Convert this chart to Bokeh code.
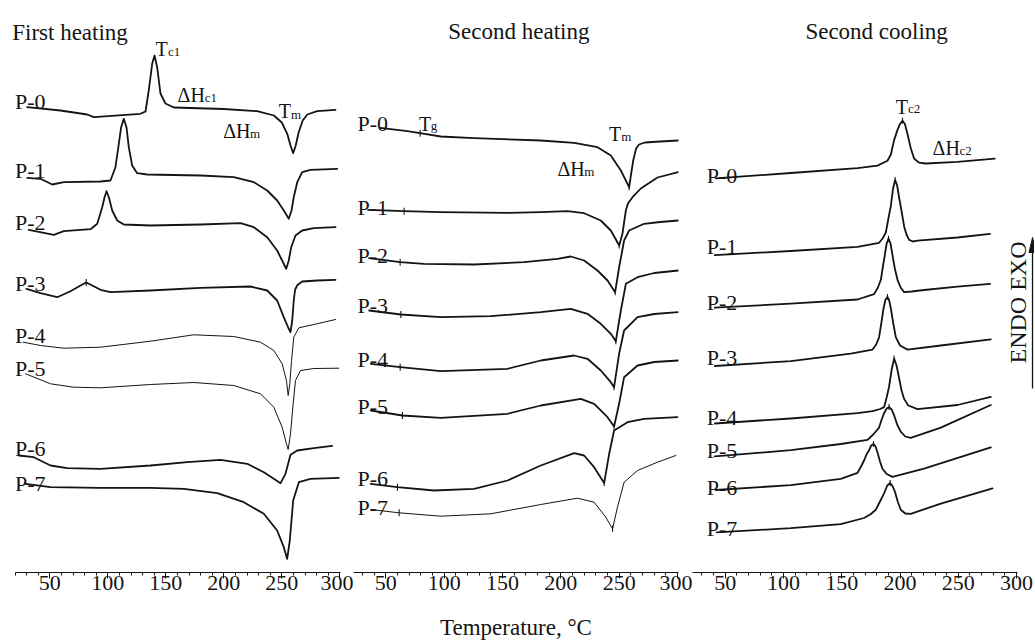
import numpy as np
from bokeh.plotting import figure
from bokeh.layouts import row
from bokeh.models import Range1d, Label, FixedTicker
from bokeh.embed import file_html
from bokeh.resources import INLINE

# ---------------------------------------------------------------- data
samples = ["P-0", "P-1", "P-2", "P-3", "P-4", "P-5", "P-6", "P-7"]
panel_titles = ["First heating", "Second heating", "Second cooling"]
tick_values = [50, 100, 150, 200, 250, 300]
minor_tick_values = [20, 30, 40, 60, 70, 80, 90, 110, 120, 130, 140, 160, 170, 180, 190,
                     210, 220, 230, 240, 260, 270, 280, 290]
x_axis_title = "Temperature, °C"
direction_text = "ENDO EXO"

# First heating: temperature (°C) / offset heat flow (a.u., exo up)
h1_p0_t = [30.5, 59.2, 82.2, 88.0, 128.0, 132.5, 135.3, 138.3, 140.3, 142.6, 145.4, 149.7, 156.9, 200.0,
           228.8, 243.1, 250.0, 254.7, 257.5, 259.8, 262.0, 264.5, 268.0, 272.0, 280.5, 296.3]
h1_p0_q = [-106.7, -110, -114, -116.7, -113.3, -111, -90, -63, -55, -67, -93, -103, -107, -108.5,
           -110.7, -115, -122, -133.3, -145, -152.7, -145, -132, -120, -114, -110.7, -109.3]
h1_p1_t = [30.5, 42.0, 52.1, 62.1, 93.7, 102.3, 106.6, 109.5, 111.5, 113.8, 116.1, 118.1, 121.0, 125.3,
           134.0, 179.9, 208.6, 225.9, 237.4, 246.0, 251.7, 256.0, 258.4, 260.3, 263.3, 267.6, 274.7, 297.8]
h1_p1_q = [-177.3, -178.3, -184, -181.7, -181, -180, -166.7, -143.3, -126.7, -118.3, -126.7, -146.7, -165, -172.7,
           -174, -175, -176.7, -181.7, -190, -200, -210, -218.3, -210, -196.7, -181.7, -171.7, -169.3, -168.3]
h1_p2_t = [31.9, 53.4, 62.1, 85.1, 90.9, 95.2, 97.2, 98.9, 100.9, 103.8, 108.1, 113.8, 136.8, 179.9,
           214.4, 225.9, 237.4, 246.0, 250.3, 253.8, 256.0, 258.1, 261.8, 267.6, 277.6, 296.3]
h1_p2_q = [-229.3, -234.3, -230.7, -228.7, -223.3, -206.7, -196.7, -190.7, -196.7, -210, -220, -224, -225, -224,
           -222.7, -226.7, -236.7, -250, -260, -268.3, -260, -246.7, -235, -230, -227.7, -226.7]
h1_p3_t = [29.9, 42.0, 56.4, 67.8, 76.5, 81.4, 86.6, 93.7, 102.3, 136.8, 179.9, 223.0, 237.4, 246.0,
           251.7, 255.5, 257.5, 259.0, 260.3, 261.5, 263.5, 267.6, 280.5, 296.3]
h1_p3_q = [-288.3, -292.7, -296.7, -290.7, -285, -282, -285, -289.3, -291.7, -290, -287.3, -286, -290, -300,
           -316.7, -327, -331.7, -320, -300, -289, -284.5, -281, -280, -279.3]
h1_p4_t = [27.1, 42.0, 62.1, 93.7, 136.8, 174.1, 208.6, 231.6, 243.1, 250.3, 254.0, 255.5, 256.9, 258.4,
           260.3, 264.7, 277.6, 296.3]
h1_p4_q = [-341.7, -345, -347.7, -346.7, -340.7, -334.3, -336, -341.7, -350, -363.3, -380, -395, -383.3, -360,
           -336.7, -327.3, -324, -319]
h1_p5_t = [29.1, 50.6, 70.7, 93.7, 136.8, 174.1, 208.6, 231.6, 243.1, 250.3, 254.0, 255.5, 257.5, 259.5,
           261.8, 266.1, 277.6, 299.1]
h1_p5_q = [-373.3, -383.3, -386.7, -387.3, -384, -382, -385, -393.3, -406.7, -426.7, -443.3, -449, -433.3, -406.7,
           -380, -370, -368, -367.7]
h1_p6_t = [23.3, 36.2, 50.6, 65.0, 93.7, 136.8, 168.4, 197.2, 220.2, 234.5, 243.1, 248.9, 253.2, 257.5,
           263.3, 277.6, 293.4]
h1_p6_q = [-455, -456.7, -465, -467.7, -468.3, -465, -461.7, -459.3, -463.3, -471.7, -478.3, -482.7, -473.3, -454.3,
           -450, -447.7, -445.3]
h1_p7_t = [29.1, 50.6, 93.7, 136.8, 165.5, 194.3, 217.2, 234.5, 246.0, 251.7, 254.6, 256.9, 259.8, 264.7,
           274.7, 299.1]
h1_p7_q = [-483.3, -486.7, -487.3, -487.3, -488.3, -492.7, -501.7, -513.3, -530, -546.7, -558.3, -540, -500, -481.7,
           -478.3, -477.3]

# Second heating
h2_p0_t = [45.1, 68.6, 79.4, 97.1, 125.7, 182.8, 211.4, 231.4, 242.8, 251.4, 258.5, 260.0, 262.0, 264.5,
           267.0, 272.0, 285.0, 300.5]
h2_p0_q = [-127.3, -130.7, -132.7, -136, -137.7, -140, -142.3, -146.7, -155, -170, -186.7, -175, -160, -148,
           -144, -142, -141, -140]
h2_p1_t = [34.8, 65.7, 97.1, 154.3, 182.8, 205.7, 219.9, 234.2, 242.8, 250.0, 252.8, 255.7, 257.5, 261.4,
           268.5, 282.8, 300.5]
h2_p1_q = [-209.3, -210.7, -211.7, -212.3, -211.7, -210.7, -212.7, -220, -230, -245, -233, -210, -203, -196.7,
           -188, -177, -171.7]
h2_p2_t = [35.7, 62.3, 82.8, 125.7, 168.5, 197.1, 208.5, 219.9, 231.4, 240.0, 246.5, 249.9, 254.2, 258.5,
           271.3, 285.0, 300.5]
h2_p2_q = [-257.7, -261.7, -263.3, -264, -261.7, -258.3, -256, -260, -270, -280, -291.7, -267, -240, -230,
           -223.3, -221.5, -220]
h2_p3_t = [35.7, 62.9, 97.1, 140.0, 182.8, 208.5, 222.8, 234.2, 242.8, 247.1, 251.4, 255.7, 265.7, 280.0, 300.5]
h2_p3_q = [-310, -314, -316.7, -315.7, -311.7, -308.3, -313.3, -323.3, -333.3, -340.7, -310, -283.3, -276.7,
           -272.5, -270]
h2_p4_t = [37.1, 62.3, 97.1, 154.3, 182.8, 211.4, 222.8, 234.2, 242.8, 245.6, 249.9, 254.2, 265.7, 280.0, 300.5]
h2_p4_q = [-363.3, -366.7, -370.7, -368.3, -360, -355, -358.3, -370, -381.7, -386.7, -353.3, -330, -316.7,
           -313.5, -311.7]
h2_p5_t = [37.1, 64.3, 97.1, 154.3, 182.8, 217.1, 228.5, 240.0, 245.6, 249.9, 254.2, 265.7, 280.0, 300.5]
h2_p5_q = [-410, -415, -417.3, -413.3, -405, -398.3, -403.3, -416.7, -426, -403.3, -376.7, -365, -361.5, -360]
h2_p6_t = [37.1, 60.0, 91.4, 125.7, 154.3, 182.8, 211.4, 219.9, 228.5, 237.1, 241.4, 245.6, 257.1, 271.3, 300.0]
h2_p6_q = [-483.3, -486.7, -490, -488.3, -480, -465, -452.7, -455, -466.7, -482.5, -453.3, -430, -421.7,
           -418.3, -416.7]
h2_p7_t = [37.1, 61.4, 97.1, 140.0, 182.8, 214.3, 228.5, 238.5, 244.3, 248.5, 254.2, 265.7, 282.8, 298.5]
h2_p7_q = [-509, -512.3, -515.7, -513.3, -504, -497.7, -501.7, -516.7, -528.3, -506.7, -481.7, -470, -461.7, -455]

# Second cooling
c2_p0_t = [41.8, 106.2, 163.5, 180.6, 189.2, 192.1, 194.9, 197.8, 200.1, 202.1, 204.1, 206.4, 209.2, 212.1,
           216.4, 222.0, 249.3, 281.3]
c2_p0_q = [-177.8, -172.5, -167.6, -165.1, -160.2, -154, -139.6, -129.4, -123.2, -120.3, -123.2, -133.5, -147.8,
           -158.1, -162.2, -163, -161.4, -158.1]
c2_p1_t = [41.0, 106.2, 163.5, 182.0, 185.0, 187.8, 190.0, 192.1, 194.0, 195.8, 197.5, 199.2, 201.5, 203.5,
           205.5, 207.8, 211.0, 215.0, 249.3, 277.3]
c2_p1_q = [-254.6, -250.5, -246.4, -242.3, -238, -232, -218, -205.3, -188, -179.5, -185, -197.1, -212, -225.9,
           -234, -239.4, -241, -240.2, -237, -233.3]
c2_p2_t = [41.0, 106.2, 163.5, 177.7, 181.0, 183.5, 185.3, 186.9, 188.5, 190.1, 191.8, 193.5, 195.5, 197.8,
           200.5, 203.5, 210.0, 220.6, 249.3, 277.3]
c2_p2_q = [-307.2, -303.1, -299, -293.6, -287, -279.3, -266, -254.6, -243, -238.2, -243, -254.6, -268, -279.3,
           -287, -291.6, -291, -289.5, -286.2, -283.4]
c2_p3_t = [41.0, 106.2, 157.7, 176.4, 179.5, 182.0, 184.0, 185.8, 187.5, 189.2, 190.7, 192.1, 194.2, 196.4,
           200.0, 206.4, 235.0, 277.9]
c2_p3_q = [-365.5, -360.6, -353.2, -349.1, -344, -336.8, -322, -308, -299, -296.5, -300, -308, -323, -336.8,
           -345, -349.1, -345, -338.8]
c2_p4_t = [41.0, 106.2, 163.5, 176.4, 183.0, 186.3, 188.5, 190.6, 192.8, 194.9, 197.0, 199.2, 201.3, 203.5,
           207.0, 215.0, 249.3, 277.9]
c2_p4_q = [-423, -418, -412.7, -410.7, -408.5, -406.6, -397, -386, -369, -358.1, -365, -377.8, -390, -398.4,
           -405, -408.6, -404.5, -396.3]
c2_p5_t = [41.0, 106.2, 149.1, 172.1, 177.0, 182.0, 184.2, 186.3, 188.5, 190.6, 192.8, 194.9, 197.5, 200.6,
           204.5, 209.2, 235.0, 277.9]
c2_p5_q = [-455.9, -449.7, -443.5, -439.4, -434, -427.1, -419, -412.7, -408, -406.6, -409, -414.8, -424, -431.2,
           -436, -437.4, -427.1, -404.5]
c2_p6_t = [41.8, 106.2, 149.1, 163.5, 166.5, 169.1, 171.2, 173.4, 175.3, 177.2, 179.0, 180.6, 182.8, 184.9,
           188.5, 193.5, 220.6, 277.9]
c2_p6_q = [-489.5, -484.6, -478.4, -472.3, -466, -460, -454, -449.7, -445, -443.5, -446, -451.7, -461, -468.2,
           -473.5, -476.4, -468.2, -446.8]
c2_p7_t = [42.7, 106.2, 149.1, 169.1, 175.0, 179.2, 182.8, 186.3, 189.0, 191.5, 193.5, 195.5, 198.0, 200.6,
           204.5, 209.2, 235.0, 279.4]
c2_p7_q = [-531.8, -527.7, -523.6, -517.5, -513.5, -509.2, -501, -492.8, -485, -482.5, -485.5, -490.8, -501,
           -509.2, -513, -513.3, -503.1, -487.9]

# glass transition temperatures marked on the second-heating curves (°C)
tg_values = [79.4, 65.7, 62.3, 62.9, 62.3, 64.3, 60.0, 61.4]
# cold-crystallisation mark on first heating of P-3 (°C)
h1_p3_mark = 81.4

# ---------------------------------------------------------------- layout / style
INK = "#141414"
FONT = "Liberation Serif"
THICK, THIN = 1.8, 1.0
h1_widths = [THICK, THICK, THICK, THICK, THIN, THIN, THICK, THICK]
h2_widths = [THICK] * 7 + [THIN]
c2_widths = [THICK] * 8

# sample label anchors (x in °C, y in plot units) per panel
h1_label_x, h2_label_x, c2_label_x = 20.0, 25.8, 34.1
h1_label_y = [-101, -170, -221.7, -282.7, -335, -368.3, -447.7, -482.7]
h2_label_y = [-123.3, -206.7, -255, -305, -359.3, -406, -478.3, -506.7]
c2_label_y = [-174.5, -246.4, -301.8, -357.3, -416.8, -449.7, -486.7, -527.7]

# annotations: (main, subscript, x_main, y_main, x_sub, y_sub)
h1_notes = [("T", "c1", 141.1, -48.5, 151.9, -51.0),
            ("ΔH", "c1", 160.1, -94.3, 183.5, -96.5),
            ("ΔH", "m", 199.5, -130.7, 222.5, -133.0),
            ("T", "m", 247.4, -110.7, 257.9, -114.0)]
h2_notes = [("T", "g", 78.5, -123.3, 88.6, -124.5),
            ("T", "m", 241.3, -133.3, 251.7, -135.5),
            ("ΔH", "m", 197.1, -168.3, 220.0, -170.5)]
c2_notes = [("T", "c2", 196.4, -106.0, 206.9, -108.0),
            ("ΔH", "c2", 227.9, -147.8, 251.0, -149.5)]

FRAME_H = 564


def make_panel(view, axis_span, frame_w, left, right, xlabel=None):
    p = figure(frame_width=frame_w, frame_height=FRAME_H,
               x_range=Range1d(*view), y_range=Range1d(-572, -8),
               y_axis_location=None, output_backend="svg", toolbar_location=None,
               min_border_left=left, min_border_right=right,
               min_border_top=8, min_border_bottom=70)
    p.grid.visible = False
    p.outline_line_color = None
    p.background_fill_color = "white"
    p.border_fill_color = "white"
    ax = p.xaxis[0]
    ax.bounds = axis_span
    ax.ticker = FixedTicker(ticks=tick_values, minor_ticks=minor_tick_values)
    ax.axis_line_color = INK
    ax.axis_line_width = 1
    ax.major_tick_line_color = INK
    ax.minor_tick_line_color = INK
    ax.major_tick_out = 6
    ax.major_tick_in = 0
    ax.minor_tick_out = 3
    ax.minor_tick_in = 0
    ax.major_label_text_font = FONT
    ax.major_label_text_font_size = "22px"
    ax.major_label_text_color = INK
    ax.major_label_standoff = -3
    if xlabel:
        ax.axis_label = xlabel
        ax.axis_label_text_font = FONT
        ax.axis_label_text_font_size = "23px"
        ax.axis_label_text_font_style = "normal"
        ax.axis_label_text_color = INK
        ax.axis_label_standoff = 22
    return p


def add_text(p, x, y, text, size, align="left", baseline="alphabetic", angle=0.0):
    p.add_layout(Label(x=x, y=y, text=text, text_font=FONT, text_font_size=size,
                       text_color=INK, text_align=align, text_baseline=baseline, angle=angle))


def draw_panel(p, ts, qs, widths, label_x, label_y, notes):
    for t, q, w, name, ly in zip(ts, qs, widths, samples, label_y):
        p.line(t, q, line_color=INK, line_width=w, line_join="round", line_cap="round")
        add_text(p, label_x, ly, name, "22px")
    for main, sub, xm, ym, xs, ys in notes:
        add_text(p, xm, ym, main, "20px")
        add_text(p, xs, ys, sub, "13px")


def ticks_at(p, ts, qs, xs, size=7):
    ys = [float(np.interp(x, t, q)) for x, t, q in zip(xs, ts, qs)]
    p.scatter(xs, ys, marker="dash", angle=np.pi / 2, size=size,
              line_color=INK, line_width=1.1)


def extreme_t(ts, qs, lo, hi, lowest):
    out = []
    for t, q in zip(ts, qs):
        t = np.asarray(t)
        q = np.asarray(q)
        m = (t > lo) & (t < hi)
        i = np.argmin(q[m]) if lowest else np.argmax(q[m])
        out.append(float(t[m][i]))
    return out


h1_t = [h1_p0_t, h1_p1_t, h1_p2_t, h1_p3_t, h1_p4_t, h1_p5_t, h1_p6_t, h1_p7_t]
h1_q = [h1_p0_q, h1_p1_q, h1_p2_q, h1_p3_q, h1_p4_q, h1_p5_q, h1_p6_q, h1_p7_q]
h2_t = [h2_p0_t, h2_p1_t, h2_p2_t, h2_p3_t, h2_p4_t, h2_p5_t, h2_p6_t, h2_p7_t]
h2_q = [h2_p0_q, h2_p1_q, h2_p2_q, h2_p3_q, h2_p4_q, h2_p5_q, h2_p6_q, h2_p7_q]
c2_t = [c2_p0_t, c2_p1_t, c2_p2_t, c2_p3_t, c2_p4_t, c2_p5_t, c2_p6_t, c2_p7_t]
c2_q = [c2_p0_q, c2_p1_q, c2_p2_q, c2_p3_q, c2_p4_q, c2_p5_q, c2_p6_q, c2_p7_q]

# panel 1: first heating (view widened to the left so the title sits inside the frame)
p1 = make_panel((7.5, 300.6), (20.43, 300.6), 340, 0, 13)
draw_panel(p1, h1_t, h1_q, h1_widths, h1_label_x, h1_label_y, h1_notes)
ticks_at(p1, [h1_p3_t], [h1_p3_q], [h1_p3_mark])
add_text(p1, 17.6, -31.5, panel_titles[0], "23px")

# panel 2: second heating
p2 = make_panel((22.32, 300.8), (22.32, 300.8), 325, 0, 14, xlabel=x_axis_title)
draw_panel(p2, h2_t, h2_q, h2_widths, h2_label_x, h2_label_y, h2_notes)
ticks_at(p2, h2_t, h2_q, tg_values)
ticks_at(p2, h2_t, h2_q, extreme_t(h2_t, h2_q, 200, 290, True), size=6)
add_text(p2, 164.0, -31.0, panel_titles[1], "23px", align="center")

# panel 3: second cooling (view widened to the right for the ENDO/EXO arrow)
p3 = make_panel((21.85, 315.4), (21.85, 300.8), 342, 0, 0)
draw_panel(p3, c2_t, c2_q, c2_widths, c2_label_x, c2_label_y, c2_notes)
ticks_at(p3, c2_t, c2_q, extreme_t(c2_t, c2_q, 150, 230, False), size=6)
add_text(p3, 179.9, -31.0, panel_titles[2], "23px", align="center")
add_text(p3, 301.0, -302, direction_text, "24px", align="center", baseline="middle", angle=np.pi / 2)
arrow_x = 313.7
p3.segment(x0=[arrow_x], y0=[-388.0], x1=[arrow_x], y1=[-250.0], line_color=INK, line_width=1.3)
p3.patch([arrow_x - 3.0, arrow_x + 3.0, arrow_x], [-252.0, -252.0, -237.0],
         fill_color=INK, line_color=INK, line_width=1)

layout = row(p1, p2, p3)
open("out.html", "w").write(file_html(layout, INLINE))
